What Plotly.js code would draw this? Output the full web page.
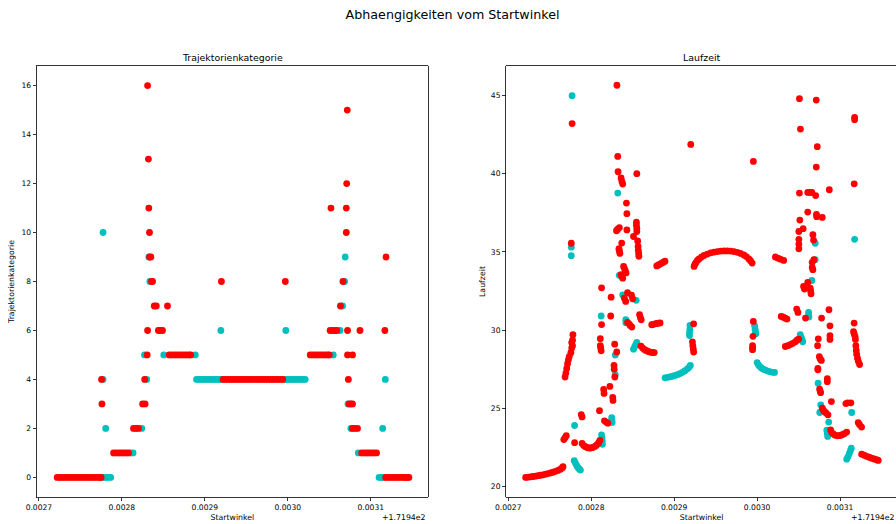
<!DOCTYPE html>
<html>
<head>
<meta charset="utf-8">
<script src="https://cdn.plot.ly/plotly-3.0.1.min.js"></script>
<style>
html,body{margin:0;padding:0;overflow:hidden;background:#fff;}
#chart{width:900px;height:524px;}
</style>
</head>
<body>
<div id="chart"></div>
<script>
// ---------- Data (Startwinkel shown with offset +1.7194e2) ----------
const xTickVals = [0.0027, 0.0028, 0.0029, 0.0030, 0.0031];
const xTickText = ["0.0027", "0.0028", "0.0029", "0.0030", "0.0031"];
const katTickVals = [0, 2, 4, 6, 8, 10, 12, 14, 16];
const lzTickVals = [20, 25, 30, 35, 40, 45];

// Trajektorienkategorie - red points
const katRedX = [
  0.002722,0.002725,0.002728,0.002731,0.002734,0.002737,0.002740,0.002743,0.002746,0.002749,0.002752,0.002755,0.002758,0.002761,0.002764,0.002767,0.002770,0.002773,0.002775,
  0.003118,0.003121,0.003124,0.003127,0.003130,0.003133,0.003136,0.003139,0.003142,0.003144,0.003146,
  0.002790,0.002793,0.002796,0.002799,0.002802,0.002805,0.002808,0.003089,0.003092,0.003095,0.003098,0.003101,0.003104,0.003107,
  0.002814,0.002817,0.002820,0.003078,0.003081,0.003084,
  0.002776,0.002825,0.002828,0.003074,0.003076,0.003078,
  0.0027755,0.0028275,0.002922,0.002925,0.002928,0.002931,0.002934,0.002937,0.002940,0.002943,0.002946,0.002949,0.002952,0.002955,0.002958,0.002961,0.002964,0.002967,0.002970,0.002973,0.002976,0.002979,0.002982,0.002985,0.002988,0.002991,0.002994,0.003073,
  0.0028305,0.002857,0.002860,0.002863,0.002866,0.002869,0.002872,0.002875,0.002878,0.002881,0.002883,0.003027,0.003030,0.003033,0.003036,0.003039,0.003042,0.003045,0.003048,0.003050,0.003072,0.003078,
  0.002831,0.002844,0.002846,0.002849,0.003051,0.003054,0.003057,0.003059,0.003072,0.003087,0.003117,
  0.002839,0.0028415,0.002855,0.0030635,
  0.0028357,0.002837,0.002920,0.002997,0.0030665,
  0.0028333,0.002835,0.0031184,
  0.0028333,0.0030705,
  0.0028325,0.003052,0.0030705,
  0.003071,
  0.002832,
  0.0030717,
  0.002831
];
const katRedY = [
  0,0,0,0,0,0,0,0,0,0,0,0,0,0,0,0,0,0,0,
  0,0,0,0,0,0,0,0,0,0,0,
  1,1,1,1,1,1,1,1,1,1,1,1,1,1,
  2,2,2,2,2,2,
  3,3,3,3,3,3,
  4,4,4,4,4,4,4,4,4,4,4,4,4,4,4,4,4,4,4,4,4,4,4,4,4,4,4,4,
  5,5,5,5,5,5,5,5,5,5,5,5,5,5,5,5,5,5,5,5,5,5,
  6,6,6,6,6,6,6,6,6,6,6,
  7,7,7,7,
  8,8,8,8,8,
  9,9,9,
  10,10,
  11,11,11,
  12,
  13,
  15,
  16
];

// Trajektorienkategorie - cyan points
const katCyanX = [
  0.002777,0.002780,0.002783,0.0027865,0.003110,0.003113,0.003115,
  0.0028105,0.0028135,0.003085,
  0.0027805,0.002824,0.003076,0.0031144,
  0.0030725,
  0.0027773,0.002830,0.002890,0.002893,0.002896,0.002899,0.002902,0.002905,0.002908,0.002911,0.002914,0.002917,0.002920,0.002997,0.003000,0.003003,0.003006,0.003009,0.003012,0.003015,0.003018,0.003021,0.0031175,
  0.0028273,0.0028505,0.0028885,0.0030548,
  0.0029193,0.0029976,0.003063,
  0.003066,
  0.0028337,0.0030685,
  0.0028325,0.0030692,
  0.0027773
];
const katCyanY = [
  0,0,0,0,0,0,0,
  1,1,1,
  2,2,2,2,
  3,
  4,4,4,4,4,4,4,4,4,4,4,4,4,4,4,4,4,4,4,4,4,4,4,
  5,5,5,5,
  6,6,6,
  7,
  8,8,
  9,9,
  10
];

// Laufzeit - red points
const lzRedX = [
  0.002721,0.002724,0.002727,0.002730,0.002733,0.002736,0.002739,0.002742,0.002745,0.002748,0.002751,0.002754,0.002757,0.002760,0.002763,0.002765,0.002766,
  0.002767,0.0027685,0.002770,
  0.0027685,0.0027695,0.0027705,0.0027715,0.0027725,0.0027735,0.0027755,0.0027765,0.0027775,0.0027765,0.0027775,0.002778,
  0.002776,0.002777,0.002780,
  0.002788,0.002789,
  0.002789,0.002791,0.002793,0.002795,0.002797,0.002799,0.002801,0.002803,0.002805,0.002807,0.002809,0.0028105,
  0.002810,
  0.002811,0.002811,0.0028115,0.002812,
  0.0028125,0.0028125,
  0.002815,0.0028155,0.002816,0.002818,0.002820,
  0.0028225,0.0028235,0.002824,
  0.002826,0.0028263,
  0.0028275,0.0028277,0.0028285,
  0.0028283,0.0028308,
  0.002831,0.002832,0.0028324,0.002836,0.002837,0.002838,
  0.0028425,0.002843,
  0.0028305,0.002832,0.002834,0.002843,
  0.0028545,0.0028545,0.002855,0.002855,
  0.002851,0.002856,0.0028565,0.0028568,0.0028572,0.0028575,
  0.0028368,0.0028335,0.002834,0.0028346,
  0.002855,
  0.002879,0.002881,0.002883,0.002885,0.002887,0.002889,
  0.002839,0.002840,0.002841,0.002842,0.002836,0.002837,0.002838,
  0.002840,0.0028416,0.0028438,0.0028486,0.002850,
  0.0028438,0.0028455,0.002847,0.002849,
  0.0028583,0.0028593,0.0028603,
  0.002873,0.002875,0.002877,0.002879,0.002881,0.002883,
  0.002860,0.002862,0.002864,0.002866,0.002868,0.002870,0.002872,0.002874,0.002876,
  0.002920,
  0.002924,0.002925,0.002926,0.002928,0.002930,0.002933,0.002936,0.002940,0.002944,0.002948,0.002952,0.002956,0.002960,0.002964,0.002968,0.002972,0.002976,0.002980,0.002984,0.002987,0.002990,0.002992,0.002994,
  0.0029235,0.002922,0.0029225,0.002923,0.0029235,
  0.0029954,0.002995,0.0029945,0.0029945,0.0029945,
  0.0029955,
  0.003022,0.003025,0.003028,0.003032,
  0.003029,0.0030315,0.003034,0.003036,
  0.003034,0.003037,0.003040,0.003043,0.003046,0.003048,0.003050,
  0.0030477,0.0030492,
  0.003051,0.0030522,0.003051,0.0030515,0.0030555,0.0030503,0.0030503,0.0030503,0.0030503,
  0.0030713,0.0030725,0.0030713,
  0.0031175,0.0031175,0.003117,0.003087,
  0.003061,0.0030635,0.003066,0.0030705,
  0.003061,0.0030715,0.0030718,0.0030785,
  0.0030672,0.003068,
  0.003056,0.003057,0.003064,0.0030645,0.003065,
  0.003061,0.0030672,0.0030664,0.0030664,0.0030684,
  0.0030583,0.0030777,0.0030866,0.0030878,0.0030878,0.0030878,0.0030737,0.0030729,0.003075,0.003076,0.0030774,0.0030732,0.0030732,0.0030846,0.0030846,0.0030753,0.003076,0.0030765,0.0030895,0.0030786,0.0030795,0.003081,0.003083,0.0030854,
  0.003107,0.003109,0.003113,
  0.0031218,0.0031235,0.0031259,
  0.0030886,0.003090,0.003092,0.003094,0.0030968,0.003099,0.003101,0.003103,0.003105,0.003108,
  0.0031169,0.0031162,0.003117,0.003118,0.0031185,0.003119,0.0031195,0.003120,0.003121,0.003122,0.0031235,
  0.003126,0.003129,0.003132,0.003135,0.003138,0.003141,0.003144,0.003146
];
const lzRedY = [
  20.58,20.60,20.62,20.64,20.66,20.69,20.72,20.75,20.79,20.83,20.87,20.92,20.97,21.03,21.11,21.19,21.27,
  23.0,23.12,23.25,
  27.0,27.25,27.55,27.85,28.1,28.3,28.55,28.85,29.0,29.2,29.35,29.7,
  35.55,43.2,22.8,
  24.6,24.45,
  22.75,22.62,22.55,22.5,22.47,22.46,22.48,22.52,22.58,22.67,22.8,22.95,
  24.85,
  29.45,29.0,28.85,28.68,
  30.35,32.7,
  26.2,25.95,24.2,24.12,24.05,
  26.4,30.9,32.1,
  25.7,25.5,
  27.75,27.5,27.0,
  29.1,28.6,
  45.65,41.1,40.12,39.72,39.5,39.33,
  38.12,37.44,
  36.35,36.45,36.55,36.4,
  36.9,36.7,36.5,36.3,
  35.98,35.7,35.35,35.1,34.9,34.72,
  35.56,35.2,35.05,34.9,
  40.0,
  34.1,34.16,34.22,34.28,34.34,34.4,
  34.07,33.95,33.8,33.65,33.55,33.42,33.32,
  32.04,31.83,32.4,32.23,32.0,
  30.49,30.4,30.3,30.19,
  30.98,30.8,30.66,
  30.34,30.37,30.4,30.42,30.44,30.46,
  28.98,28.85,28.76,28.7,28.65,28.61,28.58,28.57,28.56,
  41.87,
  34.07,34.2,34.3,34.45,34.55,34.67,34.77,34.86,34.93,34.98,35.02,35.05,35.06,35.06,35.05,35.02,34.97,34.9,34.8,34.7,34.55,34.43,34.28,
  30.4,29.25,29.0,28.8,28.6,
  30.55,29.6,29.0,28.85,28.75,
  40.78,
  34.67,34.6,34.53,34.45,
  30.87,30.82,30.76,30.7,
  28.95,29.0,29.07,29.15,29.25,29.35,29.42,
  31.34,31.13,
  44.79,42.85,38.76,37.03,36.48,36.3,35.8,35.5,35.2,
  44.7,41.72,40.42,
  43.6,43.45,39.35,38.97,
  38.8,38.8,38.8,38.6,
  37.54,37.4,37.25,37.2,
  36.1,35.75,
  32.79,32.62,32.68,32.5,32.32,
  33.04,33.86,34.0,34.33,34.5,
  30.77,30.77,31.3,30.27,29.64,29.4,29.44,29.0,28.3,28.15,28.06,27.55,27.46,26.89,26.7,26.23,26.1,26.0,25.43,25.01,24.9,24.8,24.7,24.58,
  25.3,25.35,25.35,
  24.09,23.95,23.8,
  23.62,23.45,23.35,23.28,23.24,23.25,23.28,23.32,23.38,23.48,
  30.45,29.9,29.75,29.6,29.4,29.0,28.7,28.45,28.2,28.0,27.8,
  22.07,22.0,21.93,21.87,21.81,21.76,21.71,21.67
];

// Laufzeit - cyan points
const lzCyanX = [
  0.002777,0.002776,0.002776,0.002780,
  0.0027795,0.002781,0.0027825,0.002784,0.0027855,0.002787,
  0.0028125,0.002813,0.0028133,0.0028136,
  0.0028247,0.002825,0.0028252,
  0.002829,0.002829,0.002812,0.002832,0.0028338,0.0028335,
  0.002838,0.0028417,0.0028417,0.0028542,
  0.002851,0.0028525,0.002854,0.002855,
  0.002889,0.002892,0.002895,0.002898,0.002901,0.002904,0.002907,0.002910,0.002913,0.002916,0.002918,0.0029195,
  0.002919,0.002919,0.0029185,0.0029185,
  0.002997,0.0029975,0.002998,0.0029985,
  0.003000,0.0030015,0.003003,0.003005,0.0030075,0.003010,0.003013,0.003016,0.003019,0.003021,
  0.003052,0.003053,0.003054,0.003055,
  0.003062,0.0030622,0.0030624,
  0.003066,0.003070,0.003070,0.0031175,
  0.0030735,0.0030767,0.0030755,0.0030863,0.003084,0.0030845,0.003085,0.003114,
  0.003108,0.0031095,0.003111,0.0031125,0.0031135
];
const lzCyanY = [
  44.98,35.3,34.75,23.9,
  21.65,21.5,21.35,21.22,21.12,21.05,
  23.3,23.1,22.9,22.7,
  24.4,24.25,24.1,
  27.15,28.4,30.9,38.76,33.5,35.13,
  32.25,30.66,30.47,31.9,
  28.78,28.95,29.1,29.22,
  26.95,26.98,27.01,27.05,27.1,27.15,27.22,27.3,27.4,27.52,27.62,27.74,
  30.3,30.05,29.85,29.65,
  30.27,30.05,29.9,29.76,
  27.92,27.78,27.68,27.58,27.5,27.44,27.38,27.33,27.3,27.29,
  29.7,29.55,29.4,29.25,
  31.13,30.95,30.83,
  33.17,34.5,35.55,35.8,
  26.6,25.22,24.73,24.12,23.6,23.4,23.2,24.73,
  21.75,21.9,22.1,22.3,22.45
];

// ---------- Styling ----------
const RED = "#ff0000";
const CYAN = "#00bfbf";
const FONT = "DejaVu Sans, sans-serif";
const W = 900, H = 524;
const M = {l: 37.3, r: 900 - 896.7, t: 66, b: 27};
const PW = W - M.l - M.r;
const fx = p => (p - M.l) / PW;                 // pixel x -> paper x
const fy = p => (H - M.b - p) / (H - M.t - M.b); // pixel y -> paper y

function mk(x, y, color, xa, ya) {
  return {x: x, y: y, xaxis: xa, yaxis: ya, type: "scatter", mode: "markers",
    marker: {color: color, size: 6.8, line: {width: 0}}, hoverinfo: "x+y", showlegend: false};
}

const data = [
  mk(katCyanX, katCyanY, CYAN, "x", "y"),
  mk(katRedX, katRedY, RED, "x", "y"),
  mk(lzCyanX, lzCyanY, CYAN, "x2", "y2"),
  mk(lzRedX, lzRedY, RED, "x2", "y2")
];

const axCommon = {
  showgrid: false, zeroline: false, showline: true, mirror: true,
  linecolor: "#000", linewidth: 0.8, ticks: "outside", ticklen: 3.5, tickwidth: 0.8,
  tickcolor: "#000", tickfont: {family: FONT, size: 7.6, color: "#000"}, automargin: false
};
const xRange = [0.0026977, 0.0031686];

const layout = {
  width: W, height: H,
  margin: M,
  paper_bgcolor: "#fff", plot_bgcolor: "#fff",
  font: {family: FONT, color: "#000"},
  showlegend: false,
  title: {text: "Abhaengigkeiten vom Startwinkel", xref: "container", yref: "container",
    x: 452.5 / W, xanchor: "center", y: 1 - 15 / H, yanchor: "middle",
    font: {family: FONT, size: 12.7, color: "#000"}},
  xaxis: Object.assign({}, axCommon, {domain: [0, fx(427.7)], anchor: "y", range: xRange,
    tickmode: "array", tickvals: xTickVals, ticktext: xTickText,
    title: {text: "Startwinkel", font: {family: FONT, size: 7.8, color: "#000"}, standoff: 3}}),
  yaxis: Object.assign({}, axCommon, {domain: [0, 1], anchor: "x", range: [-0.8, 16.8],
    tickmode: "array", tickvals: katTickVals,
    title: {text: "Trajektorienkategorie", font: {family: FONT, size: 7.8, color: "#000"}, standoff: 5}}),
  xaxis2: Object.assign({}, axCommon, {domain: [fx(506.3), 1], anchor: "y2", range: xRange,
    tickmode: "array", tickvals: xTickVals, ticktext: xTickText,
    title: {text: "Startwinkel", font: {family: FONT, size: 7.8, color: "#000"}, standoff: 3}}),
  yaxis2: Object.assign({}, axCommon, {domain: [0, 1], anchor: "x2", range: [19.33, 46.88],
    tickmode: "array", tickvals: lzTickVals,
    title: {text: "Laufzeit", font: {family: FONT, size: 7.8, color: "#000"}, standoff: 4}}),
  annotations: [
    {text: "Trajektorienkategorie", xref: "paper", yref: "paper", x: fx(232.5), y: fy(57.7),
      xanchor: "center", yanchor: "middle", showarrow: false, font: {family: FONT, size: 9.4, color: "#000"}},
    {text: "Laufzeit", xref: "paper", yref: "paper", x: fx(701.5), y: fy(57.7),
      xanchor: "center", yanchor: "middle", showarrow: false, font: {family: FONT, size: 9.4, color: "#000"}},
    {text: "+1.7194e2", xref: "paper", yref: "paper", x: fx(427.7), y: fy(517.3),
      xanchor: "right", yanchor: "middle", showarrow: false, font: {family: FONT, size: 7.8, color: "#000"}},
    {text: "+1.7194e2", xref: "paper", yref: "paper", x: 1, y: fy(517.3),
      xanchor: "right", yanchor: "middle", showarrow: false, font: {family: FONT, size: 7.8, color: "#000"}}
  ]
};

Plotly.newPlot("chart", data, layout, {displayModeBar: false, staticPlot: true});
</script>
</body>
</html>
